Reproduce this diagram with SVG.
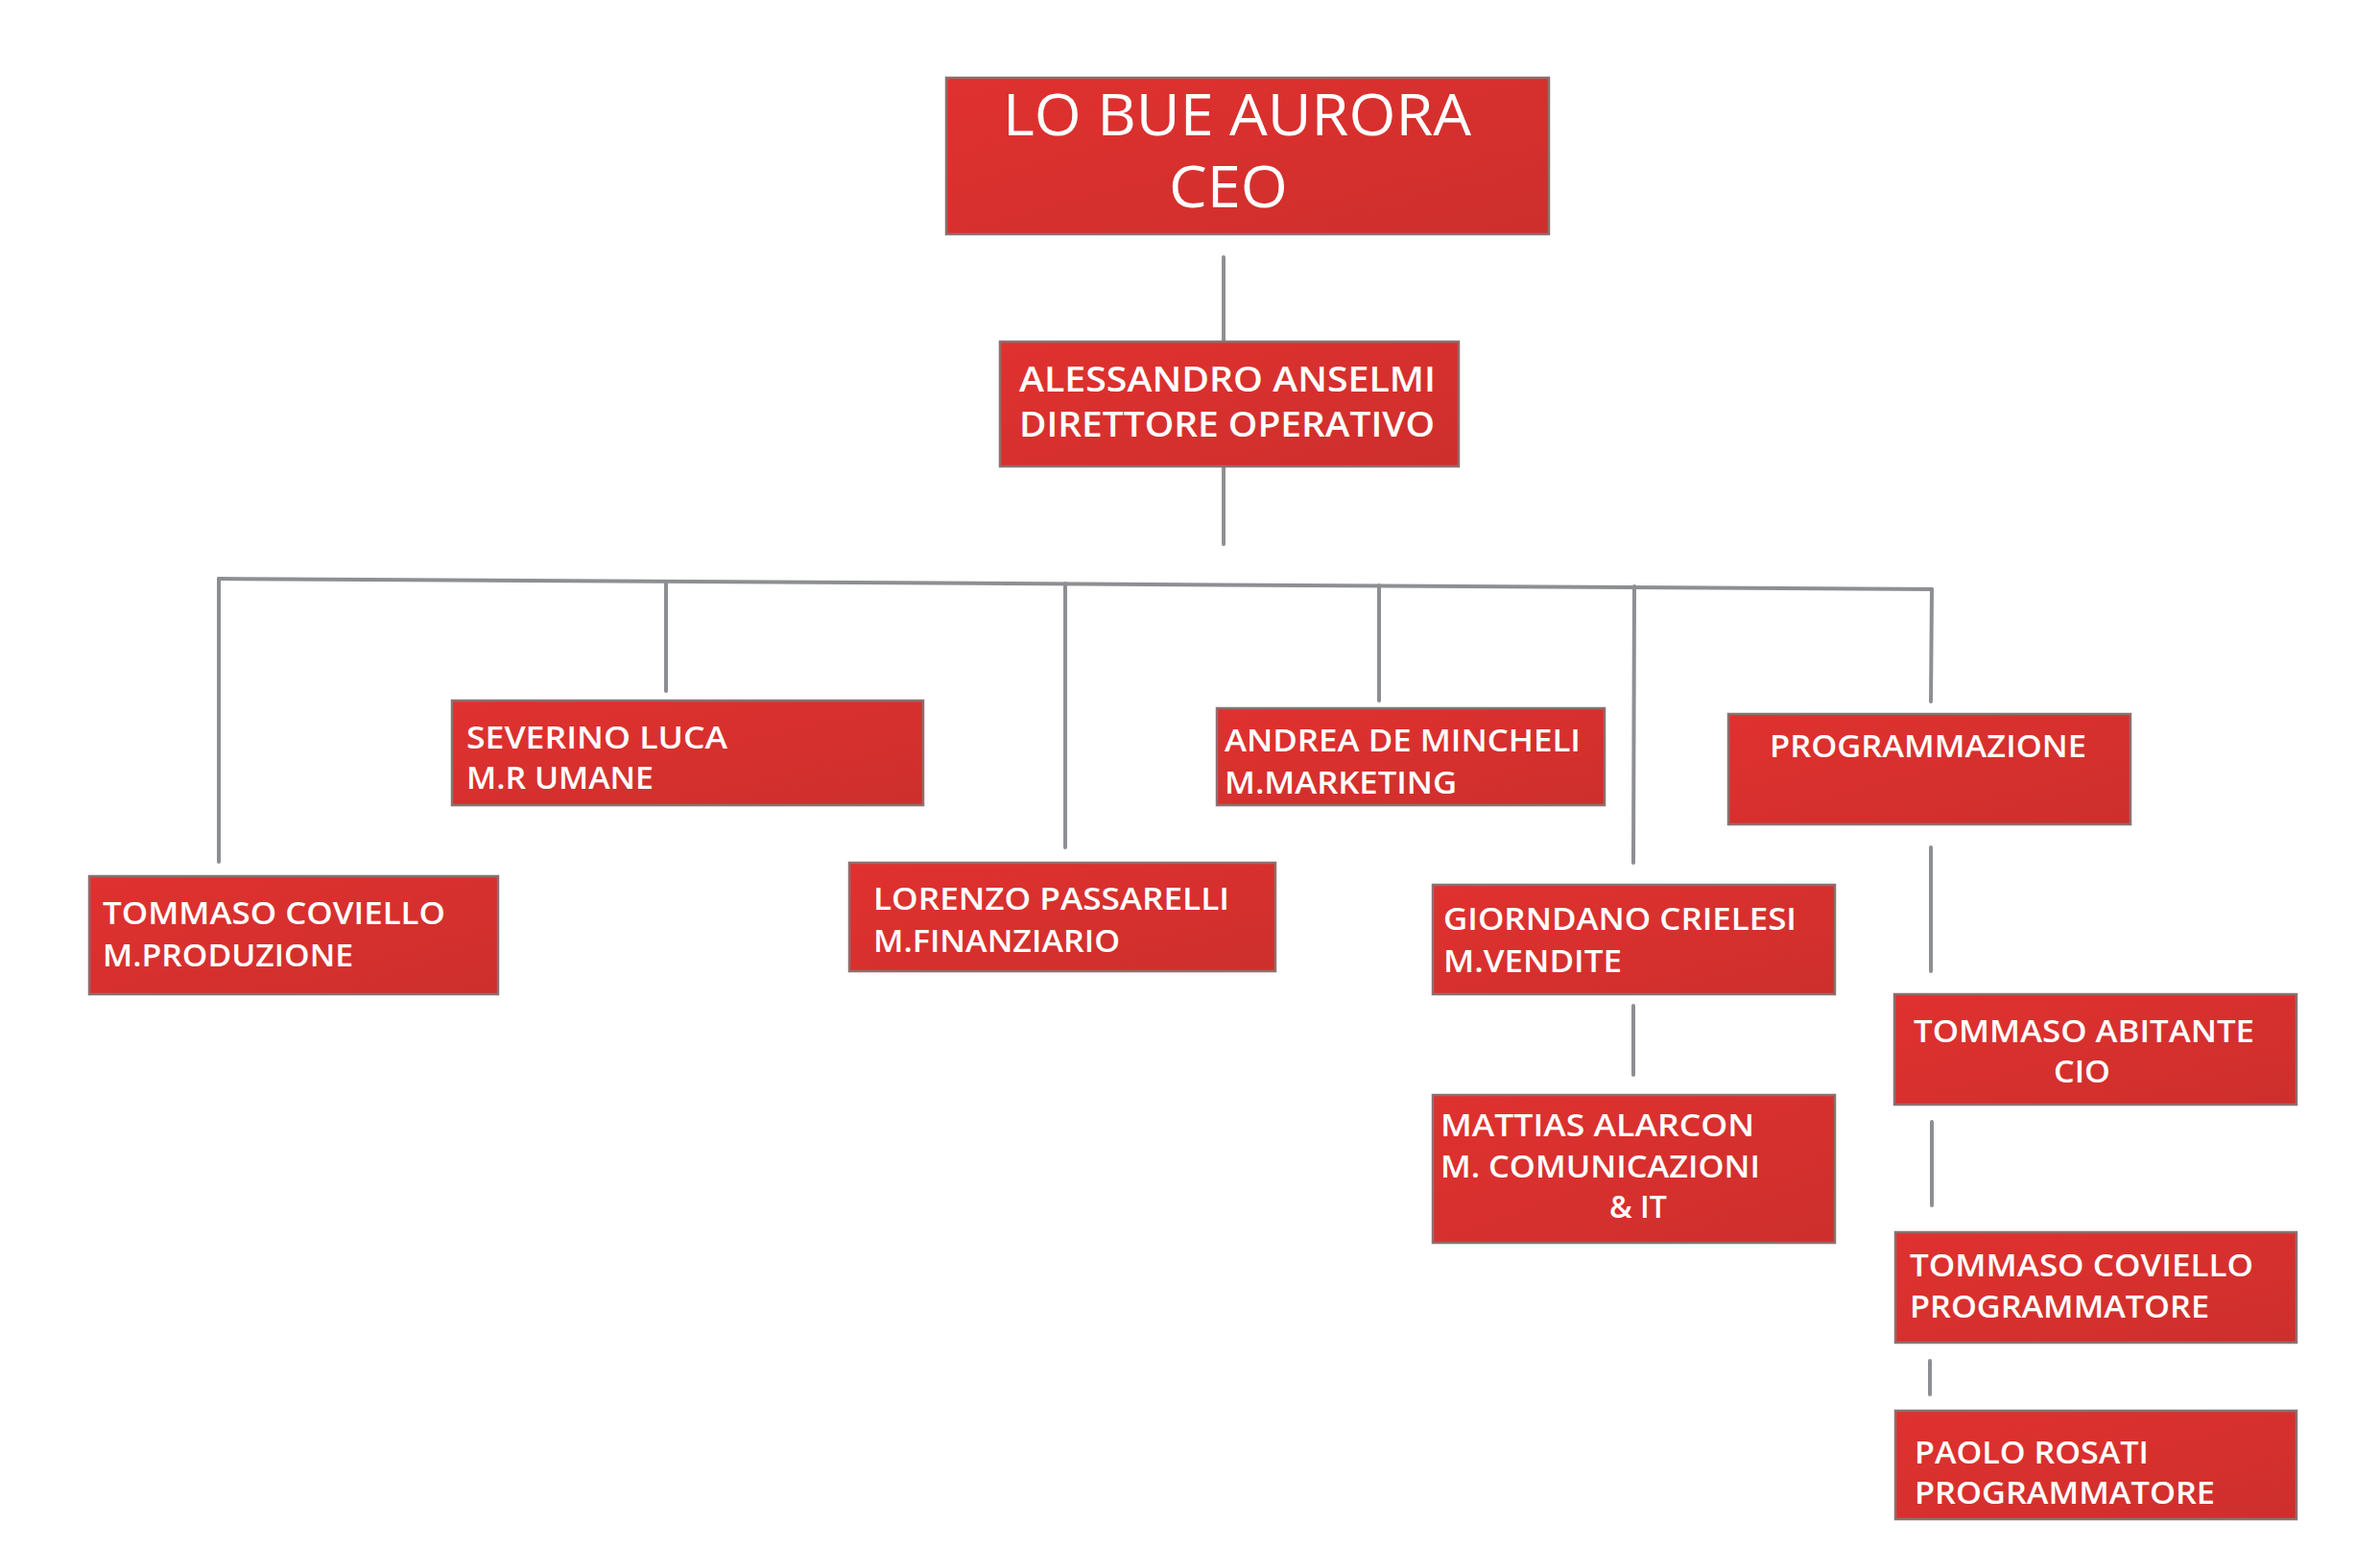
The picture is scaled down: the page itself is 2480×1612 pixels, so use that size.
<svg xmlns="http://www.w3.org/2000/svg" width="2480" height="1612" viewBox="0 0 2480 1612">
<defs>
<linearGradient id="red" x1="0" y1="0" x2="1" y2="1">
<stop offset="0" stop-color="#e0312f"/>
<stop offset="1" stop-color="#cd2f2d"/>
</linearGradient>
<style>
.box{fill:url(#red);stroke:#8e6f6f;stroke-width:2.5}
.t{fill:#ffffff;font-family:"Open Sans","Liberation Sans",sans-serif;font-weight:600;font-size:32px}
.big{font-size:61px;font-weight:400}
.mid{font-size:36px}
.c{stroke:#8d8f92;stroke-width:4;fill:none;stroke-linecap:round}
</style>
</defs>
<rect width="2480" height="1612" fill="#ffffff"/>
<g id="connectors">
<line class="c" x1="1275" y1="268" x2="1275" y2="356"/>
<line class="c" x1="1275" y1="487" x2="1275" y2="567"/>
<line class="c" x1="228" y1="603" x2="2013" y2="614"/>
<line class="c" x1="228" y1="603" x2="228" y2="898"/>
<line class="c" x1="694" y1="606" x2="694" y2="720"/>
<line class="c" x1="1110" y1="608" x2="1110" y2="883"/>
<line class="c" x1="1437" y1="610" x2="1437" y2="730"/>
<line class="c" x1="1703" y1="611" x2="1702" y2="899"/>
<line class="c" x1="2013" y1="614" x2="2012" y2="731"/>
<line class="c" x1="2012" y1="883" x2="2012" y2="1012"/>
<line class="c" x1="1702" y1="1048" x2="1702" y2="1120"/>
<line class="c" x1="2013" y1="1169" x2="2013" y2="1256"/>
<line class="c" x1="2011" y1="1418" x2="2011" y2="1453"/>
</g>
<g id="ceo">
<rect class="box" x="986" y="81" width="628" height="163"/>
<text class="t big" x="1045" y="141" textLength="488" lengthAdjust="spacingAndGlyphs">LO BUE AURORA</text>
<text class="t big" x="1218" y="216" textLength="124" lengthAdjust="spacingAndGlyphs">CEO</text>
</g>
<g id="direttore">
<rect class="box" x="1042" y="356" width="478" height="130"/>
<text class="t mid" x="1062" y="408" textLength="434" lengthAdjust="spacingAndGlyphs">ALESSANDRO ANSELMI</text>
<text class="t mid" x="1062" y="455" textLength="433" lengthAdjust="spacingAndGlyphs">DIRETTORE OPERATIVO</text>
</g>
<g id="produzione">
<rect class="box" x="93" y="913" width="426" height="123"/>
<text class="t" x="107" y="963" textLength="357" lengthAdjust="spacingAndGlyphs">TOMMASO COVIELLO</text>
<text class="t" x="107" y="1007" textLength="261" lengthAdjust="spacingAndGlyphs">M.PRODUZIONE</text>
</g>
<g id="umane">
<rect class="box" x="471" y="730" width="491" height="109"/>
<text class="t" x="486" y="780" textLength="272" lengthAdjust="spacingAndGlyphs">SEVERINO LUCA</text>
<text class="t" x="486" y="822" textLength="195" lengthAdjust="spacingAndGlyphs">M.R UMANE</text>
</g>
<g id="finanziario">
<rect class="box" x="885" y="899" width="444" height="113"/>
<text class="t" x="910" y="948" textLength="371" lengthAdjust="spacingAndGlyphs">LORENZO PASSARELLI</text>
<text class="t" x="910" y="992" textLength="257" lengthAdjust="spacingAndGlyphs">M.FINANZIARIO</text>
</g>
<g id="marketing">
<rect class="box" x="1268" y="738" width="404" height="101"/>
<text class="t" x="1276" y="783" textLength="371" lengthAdjust="spacingAndGlyphs">ANDREA DE MINCHELI</text>
<text class="t" x="1276" y="827" textLength="242" lengthAdjust="spacingAndGlyphs">M.MARKETING</text>
</g>
<g id="vendite">
<rect class="box" x="1493" y="922" width="419" height="114"/>
<text class="t" x="1504" y="969" textLength="368" lengthAdjust="spacingAndGlyphs">GIORNDANO CRIELESI</text>
<text class="t" x="1504" y="1013" textLength="186" lengthAdjust="spacingAndGlyphs">M.VENDITE</text>
</g>
<g id="comunicazioni">
<rect class="box" x="1493" y="1141" width="419" height="154"/>
<text class="t" x="1501" y="1184" textLength="327" lengthAdjust="spacingAndGlyphs">MATTIAS ALARCON</text>
<text class="t" x="1501" y="1227" textLength="333" lengthAdjust="spacingAndGlyphs">M. COMUNICAZIONI</text>
<text class="t" x="1677" y="1269" textLength="60" lengthAdjust="spacingAndGlyphs">&amp; IT</text>
</g>
<g id="programmazione">
<rect class="box" x="1801" y="744" width="419" height="115"/>
<text class="t" x="1844" y="789" textLength="330" lengthAdjust="spacingAndGlyphs">PROGRAMMAZIONE</text>
</g>
<g id="cio">
<rect class="box" x="1974" y="1036" width="419" height="115"/>
<text class="t" x="1994" y="1086" textLength="355" lengthAdjust="spacingAndGlyphs">TOMMASO ABITANTE</text>
<text class="t" x="2140" y="1128" textLength="59" lengthAdjust="spacingAndGlyphs">CIO</text>
</g>
<g id="programmatore1">
<rect class="box" x="1975" y="1284" width="418" height="115"/>
<text class="t" x="1990" y="1330" textLength="358" lengthAdjust="spacingAndGlyphs">TOMMASO COVIELLO</text>
<text class="t" x="1990" y="1373" textLength="312" lengthAdjust="spacingAndGlyphs">PROGRAMMATORE</text>
</g>
<g id="programmatore2">
<rect class="box" x="1975" y="1470" width="418" height="113"/>
<text class="t" x="1995" y="1525" textLength="244" lengthAdjust="spacingAndGlyphs">PAOLO ROSATI</text>
<text class="t" x="1995" y="1567" textLength="313" lengthAdjust="spacingAndGlyphs">PROGRAMMATORE</text>
</g>
</svg>
